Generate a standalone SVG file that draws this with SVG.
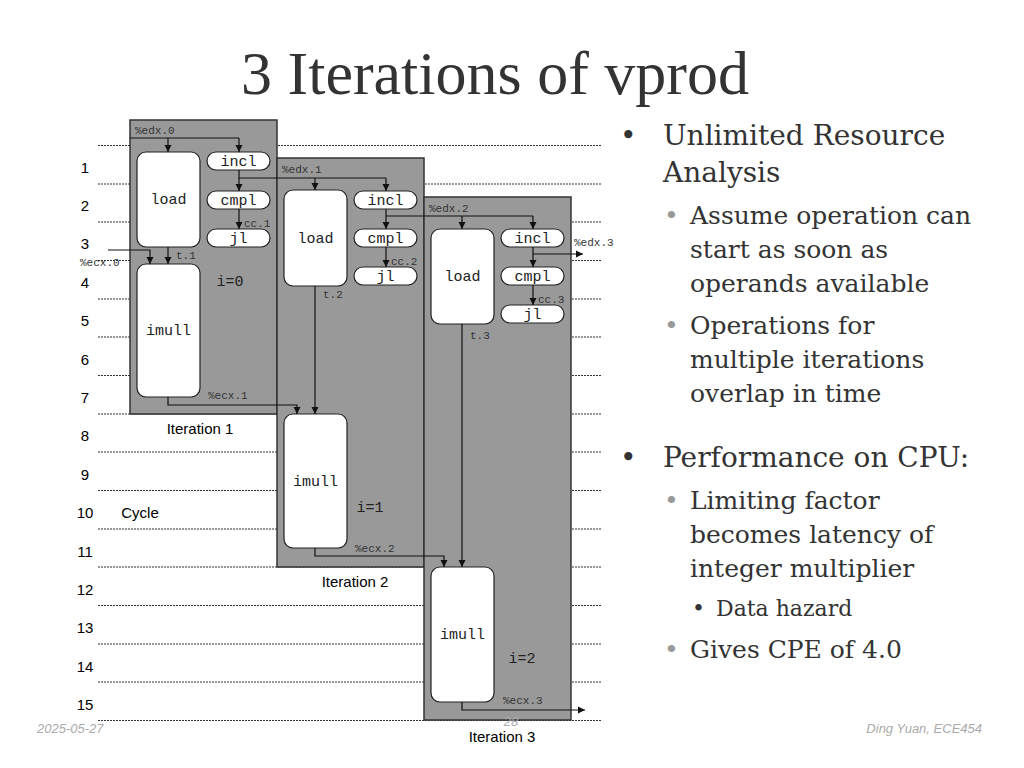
<svg xmlns="http://www.w3.org/2000/svg" width="1024" height="768" viewBox="0 0 1024 768">
<style>
.grid{stroke:#333;stroke-width:1;stroke-dasharray:2,1}
.panel{fill:#999;stroke:#333;stroke-width:1.5}
.box{fill:#fff;stroke:#222;stroke-width:1.2}
.mono{font-family:"Liberation Mono",monospace;font-size:15px;fill:#222;text-anchor:middle}
.sm{font-family:"Liberation Mono",monospace;font-size:11px;fill:#333}
.num{font-family:"Liberation Sans",sans-serif;font-size:15px;fill:#000;text-anchor:middle}
.e{stroke:#111;stroke-width:1.2;fill:none}
.ser{font-family:"DejaVu Serif",serif;fill:#333}
.foot{font-family:"Liberation Sans",sans-serif;font-size:13px;fill:#aaa;font-style:italic}
</style>
<defs><marker id="a" viewBox="0 0 10 10" refX="10" refY="5" markerWidth="6" markerHeight="6" orient="auto"><path d="M0,0L10,5L0,10z" fill="#111"/></marker></defs>
<rect width="1024" height="768" fill="#fff"/>
<text x="495" y="94" text-anchor="middle" font-family="Liberation Serif, serif" fill="#333" font-size="62">3 Iterations of vprod</text>
<g id="grid">
<line class="grid" x1="98" y1="145.5" x2="602" y2="145.5"/><line class="grid" x1="98" y1="184" x2="602" y2="184"/><line class="grid" x1="98" y1="222" x2="602" y2="222"/><line class="grid" x1="98" y1="260.5" x2="602" y2="260.5"/><line class="grid" x1="98" y1="299" x2="602" y2="299"/><line class="grid" x1="98" y1="337" x2="602" y2="337"/><line class="grid" x1="98" y1="375.5" x2="602" y2="375.5"/><line class="grid" x1="98" y1="414" x2="602" y2="414"/><line class="grid" x1="98" y1="452" x2="602" y2="452"/><line class="grid" x1="98" y1="490.5" x2="602" y2="490.5"/><line class="grid" x1="98" y1="529" x2="602" y2="529"/><line class="grid" x1="98" y1="567" x2="602" y2="567"/><line class="grid" x1="98" y1="605.5" x2="602" y2="605.5"/><line class="grid" x1="98" y1="644" x2="602" y2="644"/><line class="grid" x1="98" y1="682" x2="602" y2="682"/><line class="grid" x1="98" y1="720.5" x2="602" y2="720.5"/>
</g>
<g id="cycles">
<text class="num" x="85" y="173">1</text><text class="num" x="85" y="211">2</text><text class="num" x="85" y="249">3</text><text class="num" x="85" y="288">4</text><text class="num" x="85" y="326">5</text><text class="num" x="85" y="365">6</text><text class="num" x="85" y="403">7</text><text class="num" x="85" y="441">8</text><text class="num" x="85" y="480">9</text><text class="num" x="85" y="518">10</text><text class="num" x="85" y="557">11</text><text class="num" x="85" y="595">12</text><text class="num" x="85" y="633">13</text><text class="num" x="85" y="672">14</text><text class="num" x="85" y="710">15</text>
<text class="num" x="140" y="518">Cycle</text>
</g>
<g id="iter1">
<rect class="panel" x="130" y="120" width="147" height="294"/>
<rect class="box" x="137" y="152" width="63" height="95" rx="9"/><text class="mono" x="168.5" y="204">load</text>
<rect class="box" x="207" y="152" width="63" height="18" rx="9"/><text class="mono" x="238.5" y="166">incl</text>
<rect class="box" x="207" y="191" width="63" height="18" rx="9"/><text class="mono" x="238.5" y="205">cmpl</text>
<rect class="box" x="207" y="229" width="63" height="18" rx="9"/><text class="mono" x="238.5" y="243">jl</text>
<rect class="box" x="137" y="264" width="63" height="133" rx="9"/><text class="mono" x="168.5" y="335">imull</text>
<text class="mono" x="230" y="286">i=0</text>
<text class="num" x="200" y="434">Iteration 1</text>
</g>
<g id="iter2">
<rect class="panel" x="277" y="158" width="147" height="409"/>
<rect class="box" x="284" y="190" width="63" height="96" rx="9"/><text class="mono" x="315.5" y="243">load</text>
<rect class="box" x="354" y="191" width="63" height="18" rx="9"/><text class="mono" x="385.5" y="205">incl</text>
<rect class="box" x="354" y="229" width="63" height="18" rx="9"/><text class="mono" x="385.5" y="243">cmpl</text>
<rect class="box" x="354" y="267" width="63" height="18" rx="9"/><text class="mono" x="385.5" y="281">jl</text>
<rect class="box" x="284" y="414" width="63" height="134" rx="9"/><text class="mono" x="315.5" y="486">imull</text>
<text class="mono" x="370" y="512">i=1</text>
<text class="num" x="355" y="587">Iteration 2</text>
</g>
<g id="iter3">
<rect class="panel" x="424" y="197" width="147" height="523"/>
<rect class="box" x="431" y="229" width="63" height="95" rx="9"/><text class="mono" x="462.5" y="281">load</text>
<rect class="box" x="501" y="229" width="63" height="18" rx="9"/><text class="mono" x="532.5" y="243">incl</text>
<rect class="box" x="501" y="267" width="63" height="18" rx="9"/><text class="mono" x="532.5" y="281">cmpl</text>
<rect class="box" x="501" y="305" width="63" height="18" rx="9"/><text class="mono" x="532.5" y="319">jl</text>
<rect class="box" x="431" y="567" width="63" height="135" rx="9"/><text class="mono" x="462.5" y="639">imull</text>
<text class="mono" x="522" y="663">i=2</text>
<text class="num" x="502" y="742">Iteration 3</text>
</g>
<g id="connectors">
<path class="e" d="M130,138H239"/><path class="e" d="M168,138V152" marker-end="url(#a)"/><path class="e" d="M239,138V152" marker-end="url(#a)"/>
<path class="e" d="M239,170V191" marker-end="url(#a)"/><path class="e" d="M239,209V229" marker-end="url(#a)"/>
<path class="e" d="M239,178H386"/><path class="e" d="M315,178V190" marker-end="url(#a)"/><path class="e" d="M386,178V191" marker-end="url(#a)"/>
<path class="e" d="M168,247V264" marker-end="url(#a)"/>
<path class="e" d="M108,250H150V264" marker-end="url(#a)"/>
<path class="e" d="M168,397V405H297V414" marker-end="url(#a)"/>
<path class="e" d="M386,209V229" marker-end="url(#a)"/><path class="e" d="M386,247V267" marker-end="url(#a)"/>
<path class="e" d="M386,216H533"/><path class="e" d="M462,216V229" marker-end="url(#a)"/><path class="e" d="M533,216V229" marker-end="url(#a)"/>
<path class="e" d="M315,286V414" marker-end="url(#a)"/>
<path class="e" d="M315,548V556H444V567" marker-end="url(#a)"/>
<path class="e" d="M533,247V267" marker-end="url(#a)"/><path class="e" d="M533,285V305" marker-end="url(#a)"/>
<path class="e" d="M533,254H583" marker-end="url(#a)"/>
<path class="e" d="M462,324V567" marker-end="url(#a)"/>
<path class="e" d="M462,702V710H585" marker-end="url(#a)"/>
</g>
<g id="labels">
<text class="sm" x="135" y="134">%edx.0</text><text class="sm" x="282" y="173">%edx.1</text><text class="sm" x="429" y="212">%edx.2</text><text class="sm" x="574" y="246">%edx.3</text>
<text class="sm" x="244" y="227">cc.1</text><text class="sm" x="391" y="265">cc.2</text><text class="sm" x="538" y="303">cc.3</text>
<text class="sm" x="176" y="259">t.1</text><text class="sm" x="323" y="298">t.2</text><text class="sm" x="470" y="339">t.3</text>
<text class="sm" x="80" y="266">%ecx.0</text><text class="sm" x="208" y="399">%ecx.1</text><text class="sm" x="355" y="552">%ecx.2</text><text class="sm" x="503" y="704">%ecx.3</text>
</g>
<g id="bullets" class="ser">
<text x="620" y="145" font-size="28">•</text>
<text x="663" y="145" font-size="28">Unlimited Resource</text><text x="663" y="182" font-size="28">Analysis</text>
<text x="664" y="224" font-size="25" fill="#999">•</text>
<text x="690" y="224" font-size="25">Assume operation can</text><text x="690" y="258" font-size="25">start as soon as</text><text x="690" y="292" font-size="25">operands available</text>
<text x="664" y="334" font-size="25" fill="#999">•</text>
<text x="690" y="334" font-size="25">Operations for</text><text x="690" y="368" font-size="25">multiple iterations</text><text x="690" y="402" font-size="25">overlap in time</text>
<text x="620" y="467" font-size="28">•</text><text x="663" y="467" font-size="28">Performance on CPU:</text>
<text x="664" y="509" font-size="25" fill="#999">•</text>
<text x="690" y="509" font-size="25">Limiting factor</text><text x="690" y="543" font-size="25">becomes latency of</text><text x="690" y="577" font-size="25">integer multiplier</text>
<text x="692" y="616" font-size="22">•</text><text x="716" y="616" font-size="22">Data hazard</text>
<text x="664" y="658" font-size="25" fill="#999">•</text><text x="690" y="658" font-size="25">Gives CPE of 4.0</text>
</g>
<text class="foot" x="37" y="733">2025-05-27</text>
<text class="foot" x="511" y="726" text-anchor="middle">28</text>
<text class="foot" x="982" y="733" text-anchor="end">Ding Yuan, ECE454</text>
</svg>
